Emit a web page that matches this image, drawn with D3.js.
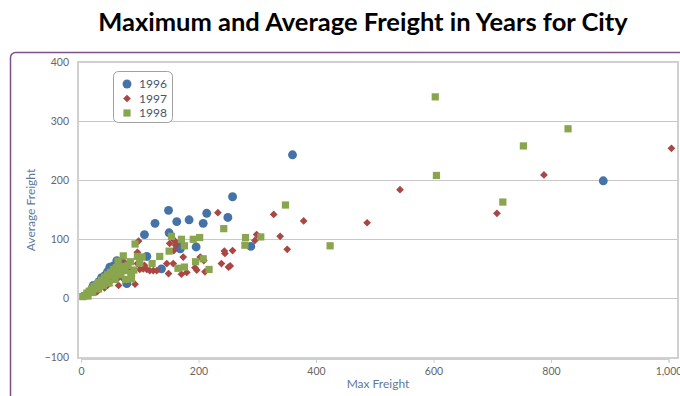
<!DOCTYPE html>
<html><head><meta charset="utf-8">
<script src="https://cdn.jsdelivr.net/npm/d3@7"></script>
<style>html,body{margin:0;padding:0;background:#fff;}svg{display:block;}</style>
</head><body>
<svg id="chart" width="680" height="396"></svg>
<script>
const titleText = "Maximum and Average Freight in Years for City";
const xTitle = "Max Freight";
const yTitle = "Average Freight";
const seriesNames = ["1996", "1997", "1998"];
const seriesColors = ["#4572A7", "#AA4643", "#89A54E"];
const xTicks = [0, 200, 400, 600, 800, 1000];
const yTicks = [-100, 0, 100, 200, 300, 400];

const data1996 = [[889,199],[360,243],[258,172],[250,137],[214,144],[208,127],[184,133],[163,130],[149,149],[126,127],[108,108],[150,111],[166,90],[169,84],[196,87],[289,88],[112,71],[137,50],[78,25],[61,64],[49,53],[41,39],[21,22],[55,55],[45,45],[35,35],[30,28],[25,20],[15,12],[10,6],[65,50],[70,60],[40,30],[50,40],[85,45],[60,35]];
const data1997 = [[1005,254],[788,209],[543,184],[708,144],[328,142],[233,145],[379,131],[487,128],[339,105],[299,108],[296,98],[351,83],[258,81],[254,55],[244,80],[245,76],[209,64],[194,52],[239,59],[251,53],[211,45],[203,70],[174,70],[159,98],[161,90],[151,93],[158,81],[146,59],[157,59],[112,49],[123,47],[129,47],[149,42],[171,41],[180,44],[197,48],[100,49],[106,50],[117,47],[98,97],[96,78],[82,47],[92,24],[96,59],[108,56],[64,22],[27,11],[20,12],[35,25],[50,30],[60,40],[70,35],[45,22],[15,8],[75,60],[40,18],[55,45],[85,38]];
const data1998 = [[603,341],[829,287],[753,258],[605,208],[718,163],[348,158],[243,118],[424,89],[280,103],[306,104],[279,90],[202,103],[208,67],[195,62],[218,49],[154,105],[171,100],[191,100],[176,89],[150,80],[134,71],[121,59],[165,51],[176,53],[92,92],[96,71],[72,72],[63,63],[75,47],[86,33],[86,42],[104,70],[3,3],[6,5],[10,9],[14,12],[18,16],[22,20],[26,23],[30,27],[35,31],[40,36],[45,40],[50,44],[55,49],[60,52],[66,47],[70,54],[80,56],[84,62],[90,48],[30,16],[38,22],[48,26],[58,32],[20,10],[44,30],[54,38],[68,40],[76,32],[100,60],[62,44],[12,4]];
const allSeries = [data1996, data1997, data1998];

const svg = d3.select("#chart");
const plot = {left: 78, top: 62, right: 678, bottom: 358};
const x = d3.scaleLinear().domain([0, 1000]).range([81, 668.5]);
const y = d3.scaleLinear().domain([-100, 400]).range([357.5, 62]);
const font = "Lato, 'Open Sans', sans-serif";

// title
svg.append("text").attr("x", 363).attr("y", 31).attr("text-anchor", "middle")
  .attr("font-family", font).attr("font-weight", "bold")
  .attr("font-size", 25.5).attr("fill", "#000").text(titleText);

// outer frame
svg.append("rect").attr("x", 10.5).attr("y", 52.5).attr("width", 700).attr("height", 400)
  .attr("rx", 5).attr("fill", "none").attr("stroke", "#7e5188").attr("stroke-width", 1.5);

// gridlines
svg.append("g").selectAll("line").data(yTicks.filter(d => d > -100 && d < 400)).join("line")
  .attr("x1", plot.left).attr("x2", plot.right)
  .attr("y1", d => Math.round(y(d)) + 0.5).attr("y2", d => Math.round(y(d)) + 0.5)
  .attr("stroke", "#c8c8c8").attr("stroke-width", 1);

// plot border
svg.append("rect").attr("x", plot.left).attr("y", plot.top)
  .attr("width", plot.right - plot.left).attr("height", plot.bottom - plot.top)
  .attr("fill", "none").attr("stroke", "#d0d0d0").attr("stroke-width", 2);

// x axis
const xAxis = d3.axisBottom(x).tickValues(xTicks).tickSize(4).tickFormat(d3.format(","));
const gx = svg.append("g").attr("transform", `translate(0,${plot.bottom + 1})`).call(xAxis);
gx.select(".domain").attr("stroke", "#c0d0e0").attr("stroke-width", 1);
gx.selectAll(".tick line").attr("stroke", "#c0d0e0");
gx.selectAll("text").attr("fill", "#666").attr("font-size", 10.5)
  .attr("font-family", font).attr("dy", "0.9em");

// y axis
const yAxis = d3.axisLeft(y).tickValues(yTicks).tickSize(0).tickPadding(9);
const gy = svg.append("g").attr("transform", `translate(${plot.left},0)`).call(yAxis);
gy.select(".domain").remove();
gy.selectAll("text").attr("fill", "#666").attr("font-size", 10.5)
  .attr("font-family", font);

// axis titles
svg.append("text").attr("x", (plot.left + plot.right) / 2).attr("y", 388).attr("text-anchor", "middle")
  .attr("font-family", font).attr("font-size", 12)
  .attr("fill", "#5d7a99").text(xTitle);
svg.append("text").attr("transform", `translate(35,${(plot.top + plot.bottom) / 2}) rotate(-90)`)
  .attr("text-anchor", "middle")
  .attr("font-family", font).attr("font-size", 12)
  .attr("fill", "#5d7a99").text(yTitle);

// markers
const symbols = [d3.symbolCircle, d3.symbolSquare, d3.symbolSquare];
const sizes = [62, 30, 52];
const rots = [0, 45, 0];
svg.append("clipPath").attr("id", "pc").append("rect")
  .attr("x", plot.left).attr("y", plot.top).attr("width", plot.right - plot.left + 2).attr("height", plot.bottom - plot.top);
allSeries.forEach((ser, i) => {
  svg.append("g").attr("clip-path", "url(#pc)").selectAll("path").data(ser).join("path")
    .attr("d", d3.symbol().type(symbols[i]).size(sizes[i]))
    .attr("transform", d => `translate(${x(d[0])},${y(d[1])}) rotate(${rots[i]})`)
    .attr("fill", seriesColors[i]);
});

// legend
const lg = svg.append("g");
lg.append("rect").attr("x", 113.5).attr("y", 71.5).attr("width", 59).attr("height", 51).attr("rx", 5)
  .attr("fill", "#fff").attr("stroke", "#a0a0a0").attr("stroke-width", 1);
seriesNames.forEach((n, i) => {
  const yy = 84 + i * 14.5;
  lg.append("path").attr("d", d3.symbol().type(symbols[i]).size(sizes[i])())
    .attr("transform", `translate(127,${yy}) rotate(${rots[i]})`).attr("fill", seriesColors[i]);
  lg.append("text").attr("x", 139).attr("y", yy + 4).attr("font-size", 12)
    .attr("font-family", font).attr("fill", "#3e576f").text(n);
});
</script>
</body></html>
